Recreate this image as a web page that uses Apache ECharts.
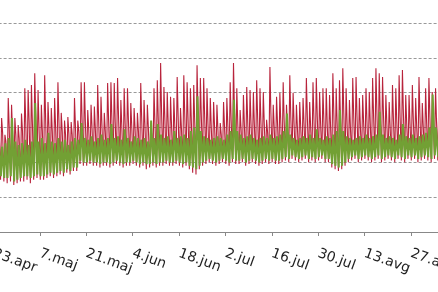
<!DOCTYPE html>
<html><head><meta charset="utf-8">
<script src="https://cdn.jsdelivr.net/npm/echarts@6/dist/echarts.min.js"></script>
<style>html,body{margin:0;padding:0;background:#fff;}#c{width:438px;height:292px;}</style>
</head><body><div id="c"></div>
<script>
// day index 14 = 23.apr (day 0 = 9.apr)
const startDay = 14;
const tickLabels = ["23.apr","7.maj","21.maj","4.jun","18.jun","2.jul","16.jul","30.jul","13.avg","27.avg","10.sep"];

const redHigh = [3.5,3.3,
 3.27,2.79,3.85,3.65,3.27,3.07,3.4,4.13,4.08,4.22,4.56,4.08,3.65,4.5,3.73,3.56,3.85,4.3,3.42,3.2,3.3,3.16,3.85,
 3.2,4.3,4.3,3.5,3.65,3.6,4.22,3.88,3.42,4.28,4.3,4.28,4.42,3.79,4.13,4.13,3.7,3.56,3.42,4.28,3.79,3.65,
 3.07,4.13,4.36,4.85,4.16,4.02,3.88,3.85,4.45,3.56,4.5,4.3,4.13,4.22,4.79,4.42,4.42,4.13,3.85,3.73,3.65,3.13,
 3.73,3.85,4.3,4.85,4.13,3.5,3.93,4.16,4.08,4.02,4.36,4.13,4.02,3.22,4.74,3.65,3.88,3.99,4.3,3.65,4.5,4.0,
 3.65,3.73,3.85,4.42,3.73,4.3,4.42,4.02,4.13,4.13,3.93,4.56,4.13,4.36,4.7,4.13,3.79,4.42,4.45,3.85,
 3.93,4.13,4.02,4.42,4.7,4.56,4.45,3.93,3.73,4.22,4.13,4.5,4.65,3.93,3.93,4.22,3.85,4.45,3.7,4.13,4.42,4.02,4.13,
 3.9,4.2,3.8];

const redMid = [2.9,2.8,2.85,2.6,3.0,2.9,2.8,2.7,2.9,3.1,3.2,3.1,3.3,3.0,2.9,3.2,3.0,2.9,3.0,3.2,2.9,2.8,2.85,2.8,3.0,
 2.9,3.2,3.1,2.95,3.0,2.95,3.2,3.05,2.9,3.2,3.2,3.15,3.3,3.0,3.1,3.15,3.0,2.95,2.9,3.2,3.0,3.0,
 2.8,3.1,3.2,3.4,3.2,3.1,3.05,3.0,3.3,2.95,3.3,3.2,3.1,3.15,3.4,3.3,3.3,3.1,3.0,3.0,2.95,2.8,
 3.0,3.05,3.2,3.4,3.1,2.95,3.05,3.15,3.1,3.1,3.25,3.1,3.1,2.85,3.4,3.0,3.1,3.1,3.2,3.0,3.3,3.1,
 3.0,3.0,3.1,3.3,3.0,3.2,3.3,3.1,3.15,3.1,3.05,3.35,3.1,3.25,3.4,3.1,3.0,3.3,3.3,3.05,
 3.1,3.15,3.1,3.3,3.4,3.35,3.3,3.1,3.0,3.2,3.15,3.3,3.4,3.1,3.1,3.2,3.05,3.3,3.0,3.15,3.3,3.1,3.15,3.1,3.2,3.0];

const redLow = [1.5,1.45,1.5,1.45,1.4,1.45,
 1.35,1.4,1.45,
 1.45,1.5,1.4,1.5,1.55,1.5,1.5,
 1.55,1.6,1.55,1.6,1.65,1.6,
 1.7,1.65,1.75,1.75,
 1.95,1.9,1.9,1.95,1.9,1.9,
 1.85,1.9,1.9,1.85,1.9,1.95,1.9,1.85,1.9,1.9,1.95,1.9,1.85,1.9,
 1.8,1.85,1.9,1.85,1.9,1.9,1.95,1.9,1.9,1.95,1.9,1.85,1.9,
 1.8,1.7,1.65,1.8,
 1.9,1.95,2.0,1.95,1.9,1.95,2.0,1.95,1.9,2.0,1.95,1.95,2.0,1.9,1.95,2.0,1.95,1.9,1.95,2.0,1.95,2.0,1.95,1.95,
 2.0,2.05,2.0,2.1,2.05,2.0,2.05,2.1,2.0,2.05,2.0,2.05,2.1,2.0,2.0,
 1.85,1.8,1.75,1.8,1.9,
 2.0,2.05,2.1,2.0,2.05,2.1,2.05,2.0,2.05,2.1,2.0,2.05,2.1,2.05,2.0,2.1,2.05,2.0,2.1,2.05,2.1,2.0,2.05,2.1,2.05,2.0,2.1,2.05,2.0,2.05];

const greenHigh = [2.5,2.6,2.45,2.55,2.7,3.27,
 2.6,2.5,2.55,2.65,2.5,2.6,
 3.7,
 2.6,2.7,2.55,
 2.85,
 2.6,2.55,2.7,2.6,2.65,2.5,2.6,2.7,2.65,
 3.13,
 2.7,2.65,2.75,2.6,2.7,2.8,2.65,2.7,
 3.1,
 2.7,2.75,2.65,
 2.95,
 2.7,2.6,2.75,2.7,2.65,2.7,2.6,
 3.2,2.7,3.1,
 2.8,2.7,2.75,2.65,2.9,2.7,2.75,2.8,2.7,2.9,3.0,
 3.9,
 2.9,2.75,2.7,2.65,2.7,2.75,2.7,2.65,2.8,2.9,
 3.8,
 2.9,2.8,2.7,2.75,2.8,2.7,2.65,2.7,2.75,2.7,2.8,2.7,2.75,2.8,2.9,
 3.4,
 2.8,2.7,2.65,2.7,2.75,2.7,2.8,2.7,
 2.95,
 2.7,2.65,2.75,2.7,2.8,2.9,
 3.5,
 2.9,2.75,2.7,2.65,2.7,2.75,2.7,2.8,2.7,2.75,2.8,
 3.45,
 2.8,2.7,2.75,2.7,2.65,2.8,
 3.1,
 2.75,2.7,2.8,2.7,2.75,2.8,2.85,3.0,
 3.95,
 3.0,2.8,2.75,2.7];

const greenLow = [1.6,1.6,1.6,1.55,1.55,1.6,
 1.45,1.5,1.55,
 1.6,1.6,1.55,1.6,1.65,1.6,1.6,
 1.65,1.7,1.65,1.7,1.75,1.7,
 1.8,1.75,1.85,1.85,
 2.05,2.0,2.0,2.05,2.0,2.0,
 1.95,2.0,2.0,1.95,2.0,2.05,2.0,1.95,2.0,2.0,2.05,2.0,1.95,2.0,
 1.95,1.95,2.0,1.95,2.0,2.0,2.05,2.0,2.0,2.05,2.0,1.95,2.0,
 1.9,1.85,1.8,1.9,
 2.0,2.05,2.1,2.05,2.0,2.05,2.1,2.05,2.0,2.1,2.05,2.05,2.1,2.0,2.05,2.1,2.05,2.0,2.05,2.1,2.05,2.1,2.05,2.05,
 2.1,2.15,2.1,2.2,2.15,2.1,2.15,2.2,2.1,2.15,2.1,2.15,2.2,2.1,2.1,
 1.95,1.9,1.85,1.9,2.0,
 2.1,2.15,2.2,2.1,2.15,2.2,2.15,2.1,2.15,2.2,2.1,2.15,2.2,2.15,2.1,2.2,2.15,2.1,2.2,2.15,2.2,2.1,2.15,2.2,2.15,2.1,2.2,2.15,2.1,2.15];

// hour-of-day fractions at which each daily reading is placed
const redTimes = [0.1, 0.42, 0.72];
const greenTimes = [0.2, 0.55];

function buildPts(lists, times) {
  const pts = [];
  for (let i = 0; i < lists[0].length; i++) {
    const d = startDay + i;
    for (let k = 0; k < lists.length; k++) pts.push([d + times[k], lists[k][i]]);
  }
  return pts;
}
const redPts = buildPts([redLow, redHigh, redMid], redTimes);
const greenPts = buildPts([greenLow, greenHigh], greenTimes);

const chart = echarts.init(document.getElementById('c'), null, {renderer: 'canvas'});
chart.setOption({
  animation: false,
  grid: {left: -6.4, right: -19.35, top: -11.8, bottom: 60, containLabel: false, outerBoundsMode: 'none'},
  xAxis: {
    type: 'value', min: 14, max: 154, interval: 14,
    axisLine: {show: true, lineStyle: {color: '#888', width: 1}},
    axisTick: {show: true, length: 4, lineStyle: {color: '#888'}},
    axisLabel: {rotate: -20, margin: 21, fontFamily: 'DejaVu Sans', fontSize: 14, color: '#1e1e1e',
      showMinLabel: true, showMaxLabel: true, hideOverlap: false,
      formatter: v => tickLabels[Math.round((v - 14) / 14)] || ''},
    splitLine: {show: false}
  },
  yAxis: {
    type: 'value', min: 0, max: 7, interval: 1,
    axisLine: {show: false}, axisTick: {show: false}, axisLabel: {show: false},
    splitLine: {show: true, lineStyle: {color: '#999', type: [3, 2], width: 1}}
  },
  series: [
    {type: 'line', data: redPts, symbol: 'none', lineStyle: {color: '#b8243c', width: 1.1}, z: 2, silent: true},
    {type: 'line', data: greenPts, symbol: 'none', lineStyle: {color: '#72a034', width: 2}, z: 3, silent: true}
  ]
});
</script></body></html>
